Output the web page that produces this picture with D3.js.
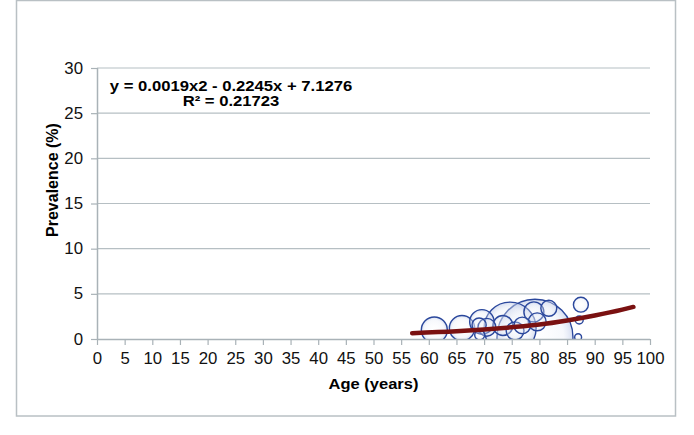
<!DOCTYPE html>
<html>
<head>
<meta charset="utf-8">
<script src="https://cdn.jsdelivr.net/npm/d3@7"></script>
<style>
  body { margin: 0; background: #fff; }
  text { font-family: "Liberation Sans", Arial, sans-serif; }
</style>
</head>
<body>
<div id="chart"></div>
<script>
(function () {
    let w = 694
    let h = 435

    // bubbles: age, prevalence, weight (sample size)
    let ages =        [61.0, 66.0, 69.6, 69.1, 70.5, 69.2, 74.7, 79.2, 73.4, 75.6, 76.9, 79.6, 81.7, 79.0, 87.5, 87.2, 87.0]
    let prevalence =  [1.0,  1.2,  1.9,  1.55, 1.3,  0.45, 1.2,  0.2,  1.5,  0.9,  1.5,  1.9,  3.4,  3.0,  3.8,  2.1,  0.2]
    let weights =     [170,  160,  150,  50,   80,   25,   680,  1450, 100,  80,   70,   80,   64,   100,  56,   16,   12]

    // trendline
    let trendAge = [57, 65, 70, 75, 80, 85, 90, 95, 97]
    let trendPrev = [0.65, 0.85, 1.05, 1.3, 1.6, 2.05, 2.6, 3.25, 3.55]

    let xTicks = d3.range(0, 101, 5)
    let yTicks = [0, 5, 10, 15, 20, 25, 30]

    let equation = "y = 0.0019x2 - 0.2245x + 7.1276"
    let rSquared = "R² = 0.21723"

    let left = 97, right = 650, top = 68, bottom = 339

    let svg = d3.select("#chart")
        .append("svg")
        .attr("width", w)
        .attr("height", h)

    // outer border
    svg.append("rect")
        .attr("x", 16.5)
        .attr("y", 0.5)
        .attr("width", 659)
        .attr("height", 415.5)
        .attr("fill", "#fff")
        .attr("stroke", "#b9c0c4")
        .attr("stroke-width", 1.5)

    let x = d3.scaleLinear().domain([0, 100]).range([left, right])
    let y = d3.scaleLinear().domain([0, 30]).range([bottom, top])
    let r = d3.scaleSqrt().domain([0, 1450]).range([0, 38])

    // gridlines
    svg.append("g")
        .selectAll("line")
        .data(yTicks.filter(d => d > 0))
        .enter()
        .append("line")
        .attr("x1", left)
        .attr("x2", right)
        .attr("y1", d => y(d))
        .attr("y2", d => y(d))
        .attr("stroke", "#b6bfc3")
        .attr("stroke-width", 1.2)

    // clip for bubbles
    svg.append("clipPath")
        .attr("id", "plotClip")
        .append("rect")
        .attr("x", left)
        .attr("y", top)
        .attr("width", right - left)
        .attr("height", bottom - top)

    let grad = svg.append("defs")
        .append("radialGradient")
        .attr("id", "bubbleFill")
    grad.append("stop").attr("offset", "0%").attr("stop-color", "#ffffff").attr("stop-opacity", 0.2)
    grad.append("stop").attr("offset", "75%").attr("stop-color", "#e6ebf6").attr("stop-opacity", 0.35)
    grad.append("stop").attr("offset", "100%").attr("stop-color", "#b9c6e6").attr("stop-opacity", 0.6)

    let bubbles = ages.map((a, i) => ({ age: a, prev: prevalence[i], n: weights[i] }))
        .sort((a, b) => b.n - a.n)

    svg.append("g")
        .attr("clip-path", "url(#plotClip)")
        .selectAll("circle")
        .data(bubbles)
        .enter()
        .append("circle")
        .attr("cx", d => x(d.age))
        .attr("cy", d => y(d.prev))
        .attr("r", d => r(d.n))
        .attr("fill", "url(#bubbleFill)")
        .attr("stroke", "#2a479c")
        .attr("stroke-width", 1.4)

    // axes
    let tickStretch = 1.05
    let xAxis = d3.axisBottom(x).tickValues(xTicks).tickSize(6).tickPadding(8)
    let yAxis = d3.axisLeft(y).tickValues(yTicks).tickSize(6).tickPadding(5)

    let gx = svg.append("g")
        .attr("transform", "translate(0, " + bottom + ")")
        .call(xAxis)
    let gy = svg.append("g")
        .attr("transform", "translate(" + left + ", 0)")
        .call(yAxis)

    ;[gx, gy].forEach(g => {
        g.select(".domain").attr("stroke", "#a9b2b7").attr("stroke-width", 1.5)
        g.selectAll(".tick line").attr("stroke", "#a9b2b7").attr("stroke-width", 1.2)
        g.selectAll(".tick text")
            .attr("fill", "#111")
            .attr("transform", "scale(" + tickStretch + ",1)")
            .style("font-size", "16px")
            .style("font-family", "'Liberation Sans', Arial, sans-serif")
    })
    gx.select(".domain").attr("d", "M" + left + ",0.5H" + right)
    gy.select(".domain").attr("d", "M0.5," + bottom + "V" + top)
    gy.selectAll(".tick text").attr("x", -14 / tickStretch)

    // trendline
    let trend = trendAge.map((a, i) => ({ age: a, prev: trendPrev[i] }))
    svg.append("path")
        .datum(trend)
        .attr("fill", "none")
        .attr("stroke", "#7a1111")
        .attr("stroke-width", 4.5)
        .attr("stroke-linecap", "round")
        .attr("d", d3.line()
            .x(d => x(d.age))
            .y(d => y(d.prev))
            .curve(d3.curveMonotoneX))

    // text in the picture is a little wide, so it is stretched sideways
    let label = (tx, ty, str, size, stretch, rotate) => svg.append("text")
        .attr("transform", "translate(" + tx + "," + ty + ")" +
            (rotate ? " rotate(-90)" : " scale(" + stretch + ",1)"))
        .attr("text-anchor", "middle")
        .style("font-size", size + "px")
        .style("font-weight", "bold")
        .text(str)

    // trend equation
    label(231, 91, equation, 15, 1.11)
    label(231, 106, rSquared, 15, 1.11)

    // axis titles
    label((left + right) / 2, 389, "Age (years)", 15, 1.1)
    label(58, 180, "Prevalence (%)", 16, 1, true)
})()
</script>
</body>
</html>
